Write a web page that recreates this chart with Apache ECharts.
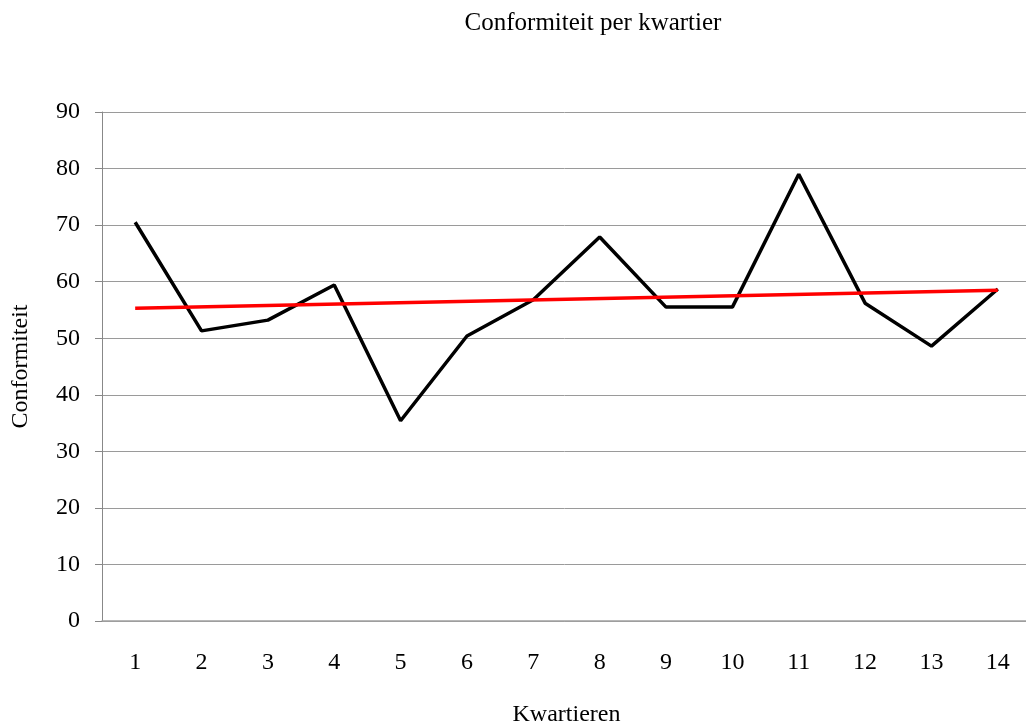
<!DOCTYPE html>
<html style="height:100%;">
<head>
	<meta charset="utf-8" />
	<title>Conformiteit per kwartier</title>
	<script type="text/javascript" src="https://cdn.jsdelivr.net/npm/echarts@6/dist/echarts.min.js"></script>
</head>
<body style="margin:0;padding:0;height:100%;background:#fff;">
	<div id="chart" style="width:1026px;height:726px;"></div>
	<script type="text/javascript">
		// kwartieren en gemeten conformiteit
		const kwartieren = ['1', '2', '3', '4', '5', '6', '7', '8', '9', '10', '11', '12', '13', '14'];
		const conformiteit = [70.5, 51.3, 53.2, 59.4, 35.4, 50.4, 56.8, 67.9, 55.5, 55.5, 79.0, 56.2, 48.6, 58.7];
		const trendlijn = [55.3, null, null, null, null, null, null, null, null, null, null, null, null, 58.5];
		const yTicks = { min: 0, max: 90, interval: 10 };

		const font = '"Liberation Serif", "DejaVu Serif", serif';
		const chart = echarts.init(document.getElementById('chart'));
		chart.setOption({
			animation: false,
			textStyle: { fontFamily: font },
			title: {
				text: 'Conformiteit per kwartier',
				left: 588,
				top: 6,
				textAlign: 'center',
				textStyle: { fontFamily: font, fontSize: 25, fontWeight: 'normal', color: '#000' }
			},
			grid: { left: 102, right: -5, top: 112, bottom: 105, outerBoundsMode: 'none' },
			xAxis: {
				type: 'category',
				data: kwartieren,
				boundaryGap: true,
				name: 'Kwartieren',
				nameLocation: 'middle',
				nameGap: 82,
				nameTextStyle: { fontFamily: font, fontSize: 24, color: '#000' },
				axisLine: { lineStyle: { color: '#a0a0a0', width: 1.5 } },
				axisTick: { length: 7, lineStyle: { color: '#a0a0a0' } },
				axisLabel: { margin: 30, fontFamily: font, fontSize: 24, color: '#000' }
			},
			yAxis: {
				type: 'value',
				min: yTicks.min,
				max: yTicks.max,
				interval: yTicks.interval,
				name: 'Conformiteit',
				nameLocation: 'middle',
				nameGap: 69,
				nameRotate: 90,
				nameTextStyle: { fontFamily: font, fontSize: 24, color: '#000' },
				axisLine: { show: true, lineStyle: { color: '#888' } },
				axisTick: { show: true, length: 7, lineStyle: { color: '#888' } },
				axisLabel: { margin: 22, fontFamily: font, fontSize: 24, color: '#000' },
				splitLine: { lineStyle: { color: '#9a9a9a', width: 1 } }
			},
			series: [
				{
					name: 'Conformiteit',
					type: 'line',
					data: conformiteit,
					symbol: 'none',
					lineStyle: { color: '#000', width: 3.5 },
					z: 2
				},
				{
					name: 'Trend',
					type: 'line',
					data: trendlijn,
					connectNulls: true,
					symbol: 'none',
					lineStyle: { color: '#ff0000', width: 3.5 },
					z: 3
				}
			]
		});
	</script>
</body>
</html>
